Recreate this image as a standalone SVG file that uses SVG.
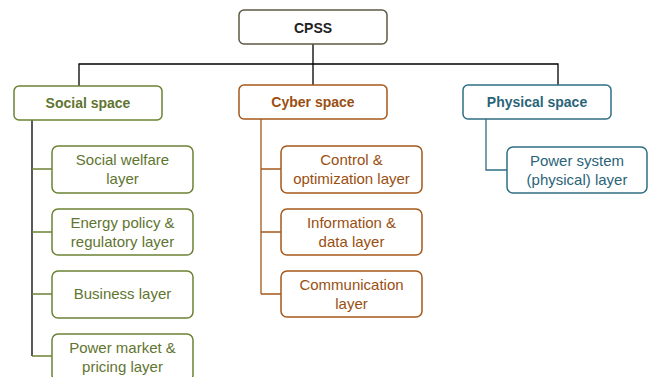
<svg xmlns="http://www.w3.org/2000/svg" width="655" height="377" viewBox="0 0 655 377">
<style>
rect{fill:#fff;stroke-width:1.5}
text{font-family:"Liberation Sans",Arial,sans-serif;text-anchor:middle;font-size:15px}
.h{font-weight:bold;font-size:14px}
.root rect{stroke:#5e5a44}.root text{fill:#222}
.soc rect{stroke:#6b8234}.soc text{fill:#5f7530}
.cyb rect{stroke:#a5581b}.cyb text{fill:#9a4f12}
.phy rect{stroke:#2f6e84}.phy text{fill:#2a6478}
.k{stroke:#000;stroke-width:1.3;fill:none}
.g{stroke:#6b8234;stroke-width:1.3;fill:none}
.b{stroke:#a5581b;stroke-width:1.3;fill:none}
.t{stroke:#2f6e84;stroke-width:1.3;fill:none}
</style>
<g id="connectors">
<path class="k" d="M313 44V86M79 86V64H558V86"/>
<path class="k" d="M32 120V356"/>
<path class="g" d="M32 169H52M32 232H52M32 294H52M32 356H52"/>
<path class="b" d="M261 119V294M261 169H281M261 232H281M261 294H281"/>
<path class="t" d="M486 119V170H507"/>
</g>
<g id="cpss" class="root"><rect x="239" y="10" width="148" height="34" rx="5"/><text class="h" x="313" y="33">CPSS</text></g>
<g id="social" class="soc"><rect x="14" y="86" width="148" height="34" rx="5"/><text class="h" x="88" y="108">Social space</text></g>
<g id="welfare" class="soc"><rect x="52" y="146" width="141" height="47" rx="6"/><text x="122.5" y="165">Social welfare</text><text x="122.5" y="184">layer</text></g>
<g id="energy" class="soc"><rect x="52" y="209" width="141" height="46" rx="6"/><text x="122.5" y="228">Energy policy &amp;</text><text x="122.5" y="247">regulatory layer</text></g>
<g id="business" class="soc"><rect x="52" y="271" width="141" height="47" rx="6"/><text x="122.5" y="299">Business layer</text></g>
<g id="market" class="soc"><rect x="52" y="334" width="141" height="47" rx="6"/><text x="122.5" y="353">Power market &amp;</text><text x="122.5" y="372">pricing layer</text></g>
<g id="cyber" class="cyb"><rect x="239" y="85" width="148" height="34" rx="5"/><text class="h" x="313" y="107">Cyber space</text></g>
<g id="control" class="cyb"><rect x="281" y="146" width="141" height="47" rx="6"/><text x="351.5" y="165">Control &amp;</text><text x="351.5" y="184">optimization layer</text></g>
<g id="information" class="cyb"><rect x="281" y="209" width="141" height="46" rx="6"/><text x="351.5" y="228">Information &amp;</text><text x="351.5" y="247">data layer</text></g>
<g id="communication" class="cyb"><rect x="281" y="271" width="141" height="46" rx="6"/><text x="351.5" y="290">Communication</text><text x="351.5" y="309">layer</text></g>
<g id="physical" class="phy"><rect x="463" y="85" width="148" height="34" rx="5"/><text class="h" x="537" y="107">Physical space</text></g>
<g id="power" class="phy"><rect x="507" y="147" width="140" height="46" rx="6"/><text x="577" y="166">Power system</text><text x="577" y="185">(physical) layer</text></g>
</svg>
